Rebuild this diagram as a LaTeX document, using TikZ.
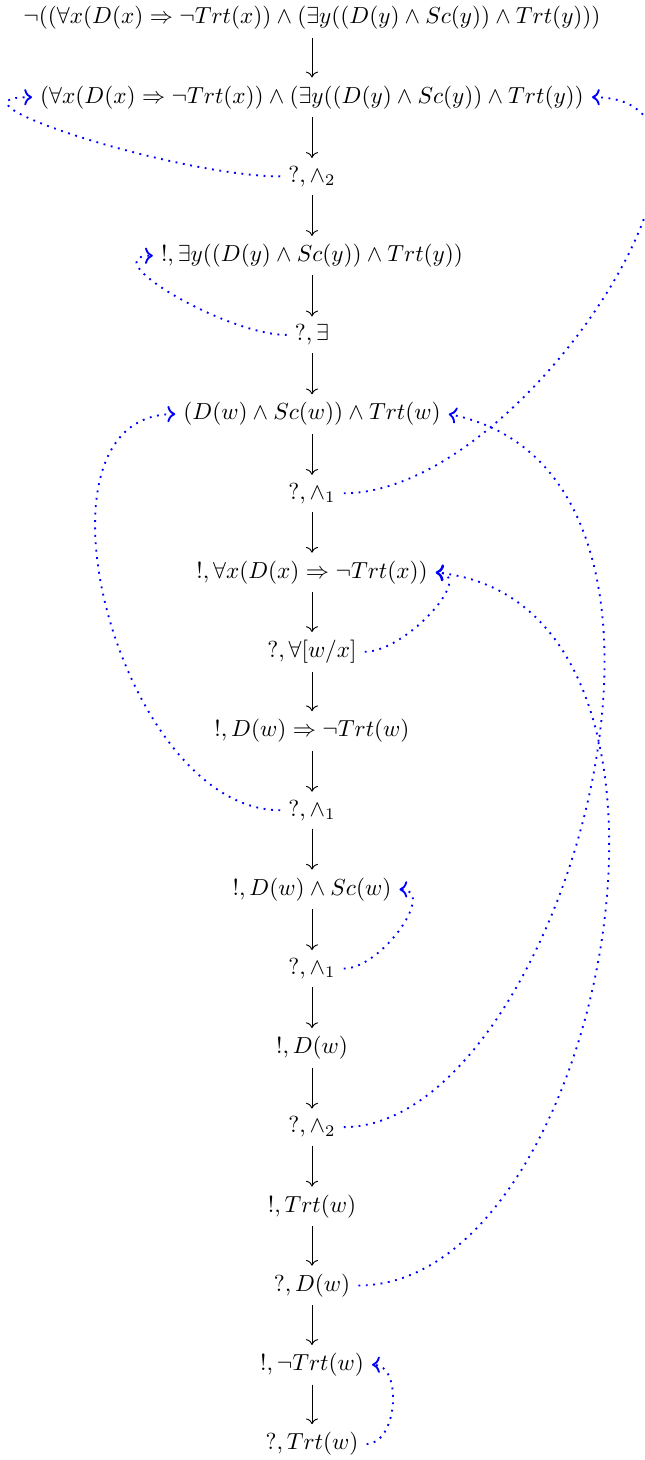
\documentclass[tikz,border=0pt]{standalone}
\usetikzlibrary{arrows.meta}
\begin{document}
\begin{tikzpicture}[x=0.431pt,y=-0.431pt,
  mv/.style={inner sep=3.33pt},
  flow/.style={->,black},
  just/.style={->,blue,line width=0.8pt,dash pattern=on 0.8pt off 2.4pt}]
\useasboundingbox (0,0) rectangle (644,1460);
\node[mv] (n1)  at (312,18)    {$\neg((\forall x(D(x) \Rightarrow \neg Trt(x)) \land (\exists y((D(y) \land Sc(y)) \land Trt(y)))$};
\node[mv] (n2)  at (312,97.2)  {$(\forall x(D(x) \Rightarrow \neg Trt(x)) \land (\exists y((D(y) \land Sc(y)) \land Trt(y))$};
\node[mv] (n3)  at (312,176.4) {$?, \land_2$};
\node[mv] (n4)  at (312,255.7) {$!, \exists y((D(y) \land Sc(y)) \land Trt(y))$};
\node[mv] (n5)  at (312,334.9) {$?, \exists$};
\node[mv] (n6)  at (312,414.1) {$(D(w) \land Sc(w)) \land Trt(w)$};
\node[mv] (n7)  at (312,493.3) {$?, \land_1$};
\node[mv] (n8)  at (312,572.5) {$!, \forall x(D(x) \Rightarrow \neg Trt(x))$};
\node[mv] (n9)  at (312,651.8) {$?, \forall[w/x]$};
\node[mv] (n10) at (312,731)   {$!, D(w) \Rightarrow \neg Trt(w)$};
\node[mv] (n11) at (312,810.2) {$?, \land_1$};
\node[mv] (n12) at (312,889.4) {$!, D(w) \land Sc(w)$};
\node[mv] (n13) at (312,968.6) {$?, \land_1$};
\node[mv] (n14) at (312,1047.9){$!, D(w)$};
\node[mv] (n15) at (312,1127.1){$?, \land_2$};
\node[mv] (n16) at (312,1206.3){$!, Trt(w)$};
\node[mv] (n17) at (312,1285.5){$?, D(w)$};
\node[mv] (n18) at (312,1364.7){$!, \neg Trt(w)$};
\node[mv] (n19) at (312,1444)  {$?, Trt(w)$};
\foreach \a/\b in {n1/n2,n2/n3,n3/n4,n4/n5,n5/n6,n6/n7,n7/n8,n8/n9,n9/n10,n10/n11,n11/n12,n12/n13,n13/n14,n14/n15,n15/n16,n16/n17,n17/n18,n18/n19}
  \draw[flow] (\a) -- (\b);
\draw[just] (n3.west) to[out=180,in=180] (n2.west);
\draw[just] (n7.east) to[out=0,in=0] (n2.east);
\draw[just] (n5.west) to[out=180,in=180] (n4.west);
\draw[just] (n11.west) to[out=180,in=180] (n6.west);
\draw[just] (n9.east) to[out=0,in=0] (n8.east);
\draw[just] (n13.east) to[out=0,in=0] (n12.east);
\draw[just] (n15.east) .. controls +(215,0) and +(300,60) .. (n6.east);
\draw[just] (n17.east) .. controls +(245,0) and +(300,30) .. (n8.east);
\draw[just] (n19.east) to[out=0,in=0] (n18.east);
\end{tikzpicture}
\end{document}
